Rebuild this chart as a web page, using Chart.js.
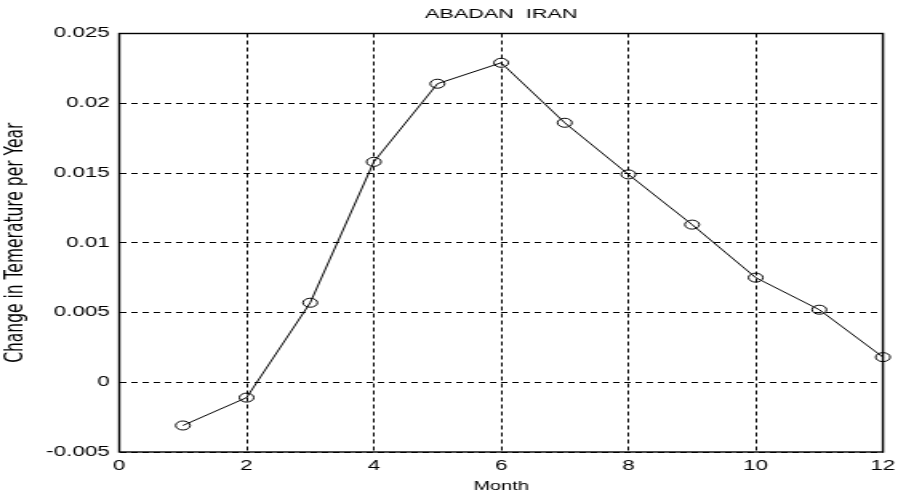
<!DOCTYPE html>
<html>
<head>
<meta charset="utf-8">
<title>ABADAN IRAN</title>
<script src="https://cdn.jsdelivr.net/npm/chart.js@4.4.1/dist/chart.umd.min.js"></script>
<style>
  html, body { margin: 0; padding: 0; background: #ffffff; }
</style>
</head>
<body>
<!-- The plot is rendered on a narrow canvas and shown widened to the page width -->
<canvas id="chart" width="561" height="498" style="display:block;width:898px;height:498px;"></canvas>
<script>
// Monthly trend of temperature change at Abadan
const months = [1, 2, 3, 4, 5, 6, 7, 8, 9, 10, 11, 12];
const tempChange = [-0.0031, -0.0011, 0.0057, 0.0158, 0.0214, 0.0229, 0.0186, 0.0149, 0.0113, 0.0075, 0.0052, 0.0018];

const xTickValues = [0, 2, 4, 6, 8, 10, 12];
const xTickLabels = ['0', '2', '4', '6', '8', '10', '12'];
const yTickValues = [-0.005, 0, 0.005, 0.01, 0.015, 0.02, 0.025];
const yTickLabels = ['-0.005', '0', '0.005', '0.01', '0.015', '0.02', '0.025'];

const points = months.map((m, i) => ({ x: m, y: tempChange[i] }));

const tickFont = { family: 'Liberation Sans, Arial, sans-serif', size: 14 };

function labelFor(values, labels, v) {
  const i = values.findIndex(t => Math.abs(t - v) < 1e-9);
  return i >= 0 ? labels[i] : '';
}

// Solid box around the plotting area
const frame = {
  id: 'frame',
  beforeDatasetsDraw(chart) {
    const { ctx, chartArea: a } = chart;
    ctx.save();
    ctx.strokeStyle = '#000000';
    ctx.lineWidth = 1.4;
    ctx.setLineDash([]);
    ctx.strokeRect(a.left, a.top, a.right - a.left, a.bottom - a.top);
    ctx.restore();
  }
};

new Chart(document.getElementById('chart'), {
  type: 'line',
  data: {
    datasets: [{
      data: points,
      borderColor: '#000000',
      borderWidth: 1,
      backgroundColor: 'rgba(0,0,0,0)',
      pointStyle: 'circle',
      pointRadius: 4.5,
      pointBorderWidth: 1,
      pointBorderColor: '#000000',
      pointBackgroundColor: 'rgba(0,0,0,0)',
      tension: 0,
      clip: false
    }]
  },
  options: {
    responsive: false,
    animation: false,
    devicePixelRatio: 1,
    layout: { padding: { left: 0, right: 9.4, top: 0, bottom: 0 } },
    plugins: {
      legend: { display: false },
      tooltip: { enabled: false },
      title: {
        display: true,
        fullSize: false,
        text: 'ABADAN  IRAN',
        color: '#000000',
        font: { family: 'Liberation Sans, Arial, sans-serif', size: 13.5, weight: 'normal' },
        padding: { top: 6, bottom: 11.3 }
      }
    },
    scales: {
      x: {
        type: 'linear',
        min: 0,
        max: 12,
        afterBuildTicks(scale) { scale.ticks = xTickValues.map(v => ({ value: v })); },
        afterFit(scale) {
          scale.height = 46;
          scale.paddingLeft = 0;
          scale.paddingRight = 0;
        },
        ticks: {
          color: '#000000',
          font: tickFont,
          padding: 5.5,
          maxRotation: 0,
          callback: v => labelFor(xTickValues, xTickLabels, v)
        },
        grid: { color: '#000000', lineWidth: 1, drawTicks: false },
        border: { display: false, dash: [4, 3] },
        title: {
          display: true,
          text: 'Month',
          color: '#000000',
          font: { family: 'Liberation Sans, Arial, sans-serif', size: 12.5 },
          padding: { top: 3.5, bottom: 3.5 }
        }
      },
      y: {
        type: 'linear',
        min: -0.005,
        max: 0.025,
        afterBuildTicks(scale) { scale.ticks = yTickValues.map(v => ({ value: v })); },
        afterFit(scale) { scale.width = 74.5; },
        ticks: {
          color: '#000000',
          font: tickFont,
          padding: 6,
          callback: v => labelFor(yTickValues, yTickLabels, v)
        },
        grid: { color: '#000000', lineWidth: 1, drawTicks: false },
        border: { display: false, dash: [4, 3] },
        title: {
          display: true,
          text: 'Change in Temerature per Year',
          color: '#000000',
          font: { family: 'DejaVu Sans, sans-serif', size: 15.5 },
          padding: { top: 0.8, bottom: 0.8 }
        }
      }
    }
  },
  plugins: [frame]
});
</script>
</body>
</html>
